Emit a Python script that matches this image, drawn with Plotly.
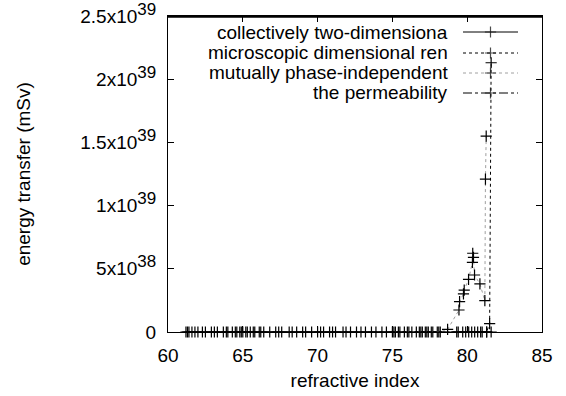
import plotly.graph_objects as go

# ---- data ----
names = ["collectively two-dimensiona", "microscopic dimensional ren",
         "mutually phase-independent", "the permeability"]

s1_x = [61.2, 61.4, 61.6, 62.0, 62.3, 62.9, 63.3, 63.7, 64.0, 64.3, 64.6, 64.8,
        65.0, 65.2, 65.5, 65.8, 66.1, 66.4, 67.2, 67.6, 68.1, 68.6, 69.0, 69.6,
        70.0, 70.4, 70.8, 71.2, 71.7, 72.2, 72.6, 73.2, 73.9, 74.6, 75.2, 76.1,
        76.6, 77.0, 77.4, 78.1, 79.3, 79.7, 80.1, 80.5, 80.9, 81.3, 81.6]
s1_y = [0] * len(s1_x)

s2_x = [75.0, 75.4, 75.8, 76.3, 76.9, 77.3, 77.7, 78.0, 79.4, 79.9, 80.3, 80.7,
        81.0, 81.3, 81.5, 81.6]
s2_y = [0, 0, 0, 0, 0, 0, 0, 0, 0, 0, 0, 0, 0, 0, 0.066e39, 2.13e39]

s3_x = [75.1, 75.5, 76.0, 76.8, 77.2, 77.6, 78.2, 78.69, 79.45, 79.49, 79.75,
        79.8, 80.09, 80.35, 80.37, 80.42, 80.49, 80.85, 81.18, 81.22, 81.27]
s3_y = [0, 0, 0, 0, 0, 0, 0, 0.02e39, 0.174e39, 0.240e39, 0.301e39,
        0.332e39, 0.417e39, 0.551e39, 0.623e39, 0.591e39, 0.451e39, 0.380e39,
        0.248e39, 1.21e39, 1.55e39]

s4_x = [61.3, 61.8, 62.5, 63.1, 63.9, 64.5, 64.9, 65.3, 65.7, 66.2, 66.8, 67.4,
        68.3, 69.2, 70.2, 71.0, 71.9, 72.9, 73.6, 74.3]
s4_y = [0] * len(s4_x)

x_ticks = [60, 65, 70, 75, 80, 85]
y_ticks = [0, 0.5e39, 1.0e39, 1.5e39, 2.0e39, 2.5e39]
y_mant = ["0", "5", "1", "1.5", "2", "2.5"]
y_exp = ["", "38", "39", "39", "39", "39"]
y_ticktext = [m if not e else f"{m}x10<sup><span style='font-size:17px'>{e}</span></sup>"
              for m, e in zip(y_mant, y_exp)]

styles = [
    dict(color="black", dash="solid", width=1),
    dict(color="black", dash="dot", width=1),
    dict(color="#a0a0a0", dash="dot", width=1),
    dict(color="black", dash="dashdot", width=1),
]
series = [(s1_x, s1_y), (s2_x, s2_y), (s3_x, s3_y), (s4_x, s4_y)]

FONT = "Liberation Sans, Arial, sans-serif"
FS = 19
fig = go.Figure()
marker = dict(symbol="cross-thin", size=8, line=dict(color="black", width=1.2), color="black")

for (xs, ys), st, nm in zip(series, styles, names):
    fig.add_trace(go.Scatter(x=xs, y=ys, mode="lines+markers", name=nm,
                             line=st, marker=marker, showlegend=False,
                             cliponaxis=False))

# manual gnuplot-style legend (text right, sample on the right)
W, H = 566, 396
L, R, T, B = 168, 24, 16, 64
pw, ph = W - L - R, H - T - B
rows_y = [32, 53, 73, 93]
x0p, x1p = (463 - L) / pw, (518 - L) / pw
for i, (st, nm) in enumerate(zip(styles, names)):
    yp = 1 - (rows_y[i] - T) / ph
    fig.add_trace(go.Scatter(x=[x0p, (x0p + x1p) / 2, x1p], y=[yp, yp, yp],
                             xaxis="x2", yaxis="y2", mode="lines+markers",
                             line=st,
                             marker=dict(symbol="cross-thin", size=[0, 8, 0],
                                         line=dict(color="black", width=1.2)),
                             showlegend=False, hoverinfo="skip"))
    fig.add_annotation(x=(450 - L) / pw, y=yp, xref="paper", yref="paper",
                       text=nm, showarrow=False, xanchor="right", yanchor="middle",
                       font=dict(family=FONT, size=FS, color="black"))

# top border of the frame (gnuplot border)
fig.add_trace(go.Scatter(x=[0, 1], y=[0.998, 0.998], xaxis="x2", yaxis="y2",
                         mode="lines", line=dict(color="black", width=1.5),
                         cliponaxis=False, showlegend=False, hoverinfo="skip"))
fig.add_shape(type="line", xref="paper", yref="paper", x0=0, x1=1, y0=0.998, y1=0.998,
              line=dict(color="black", width=1.5), layer="above")

axis_common = dict(showgrid=False, zeroline=False, ticks="inside", ticklen=6,
                   tickcolor="black", linecolor="black", linewidth=1, mirror="ticks",
                   showline=True, automargin=False,
                   tickfont=dict(family=FONT, size=FS, color="black"))

fig.update_layout(
    width=W, height=H,
    margin=dict(l=L, r=R, t=T, b=B, autoexpand=False),
    plot_bgcolor="white", paper_bgcolor="white",
    showlegend=False,
    xaxis=dict(range=[60, 85], tickvals=x_ticks, ticktext=[str(v) for v in x_ticks],
               ticklabelstandoff=6,
               title=dict(text="refractive index", font=dict(family=FONT, size=FS, color="black"),
                          standoff=8),
               **axis_common),
    yaxis=dict(range=[0, 2.5e39], tickvals=y_ticks, ticktext=y_ticktext,
               ticklabelstandoff=7, ticklabeloverflow="allow",
               title=dict(text="energy transfer (mSv)", font=dict(family=FONT, size=FS, color="black"),
                          standoff=44),
               **axis_common),
    xaxis2=dict(range=[0, 1], overlaying="x", visible=False),
    yaxis2=dict(range=[0, 1], overlaying="y", visible=False),
)

fig.write_html("out.html", config={"displayModeBar": False},
               post_script="document.body.style.margin='0';document.body.style.overflow='hidden';")
